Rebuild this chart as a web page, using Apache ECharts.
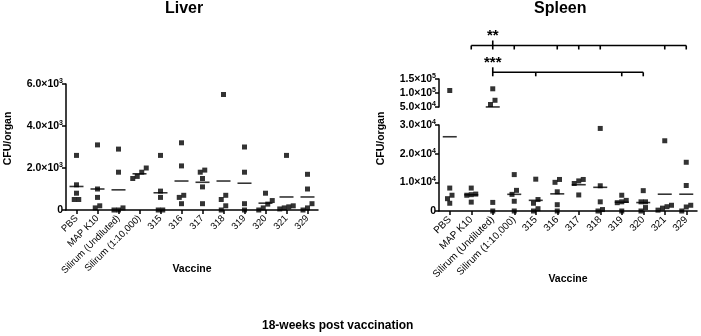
<!DOCTYPE html>
<html>
<head>
<meta charset="utf-8">
<script src="https://cdn.jsdelivr.net/npm/echarts@6/dist/echarts.min.js"></script>
<style>
  html, body { margin: 0; padding: 0; background: #fff; }
  #chart { width: 701px; height: 336px; }
</style>
</head>
<body>
<div id="chart"></div>
<script>
// vaccine groups on the x axis
const categories = ['PBS', 'MAP K10', 'Silirum (Undiluted)', 'Silirum (1:10,000)', '315', '316', '317', '318', '319', '320', '321', '329'];

// CFU per organ, one list of animals per group
const liverCFU = [
  [2600, 1200, 800, 500, 500],
  [3100, 1000, 600, 200, 100],
  [2900, 1800, 100, 0, 0],
  [2000, 1800, 1600, 1500],
  [2600, 900, 600, 0, 0],
  [3200, 2100, 700, 600, 300],
  [1900, 1800, 1500, 1100, 300],
  [5500, 700, 500, 200, 0],
  [3000, 1800, 300, 0],
  [800, 450, 280, 100, 0],
  [2600, 200, 150, 100, 50],
  [1700, 1000, 300, 100, 0]
];
const spleenCFU = [
  [109000, 8000, 5500, 4300, 2700],
  [8000, 5900, 5700, 5500, 3100],
  [115000, 74000, 59000, 3000, 0],
  [12700, 7200, 5800, 3400, 0],
  [11100, 4000, 2700, 800, 0],
  [11000, 10000, 6700, 2200, 0],
  [11000, 10500, 9600, 5600],
  [28800, 8800, 3200, 500, 0],
  [5500, 3700, 3200, 2900, 0],
  [7100, 3200, 3200, 1200, 0],
  [24500, 2000, 1500, 1000, 300],
  [17000, 8900, 2000, 1400, 0]
];

const liverTicks = [0, 6000, 2000];       // min, max, step
const spleenLowTicks = [0, 30000, 10000];
const spleenHighTicks = [50000, 150000, 50000];

// significance brackets (spleen)
const sigLabels = ['**', '***'];
const sigFrom = ['MAP K10', 'Silirum (Undiluted)'];
const sigTo = ['329', '320'];
const sigAnchor = ['Silirum (Undiluted)', 'Silirum (Undiluted)'];
const sigMarks = [
  ['MAP K10', 'Silirum (Undiluted)', 'Silirum (1:10,000)', '316', '317', '318', '321', '329'],
  ['Silirum (Undiluted)', '315', '319', '320']
];

// ---------- layout ----------
const FONT = 'Liberation Sans, Arial, Helvetica, sans-serif';
const liverGrid = { left: 66, top: 84, width: 252, height: 126 };
const spHiGrid = { left: 439, top: 79, width: 258, height: 28 };
const spLoGrid = { left: 439, top: 125, width: 258, height: 86 };
const sigGrid = { left: 439, top: 30, width: 258, height: 50 };
const sigLevels = [34.5, 7.7]; // in sig grid units (px above its bottom)

const mean = a => a.reduce((s, v) => s + v, 0) / a.length;

function sci(v) {
  if (v === 0) return '0';
  const e = Math.floor(Math.log10(v) + 1e-9);
  const m = v / Math.pow(10, e);
  return m.toFixed(1) + '×10{sup|' + e + '}';
}

// Prism-like horizontal spread of points that would overlap
function spread(vals, toPx) {
  const idx = vals.map((v, i) => i).sort((a, b) => vals[a] - vals[b]);
  const off = new Array(vals.length).fill(0);
  let group = [idx[0]];
  const flush = () => {
    const n = group.length;
    group.forEach((g, k) => { off[g] = (k - (n - 1) / 2) * 4.5; });
  };
  for (let k = 1; k < idx.length; k++) {
    const prev = group[group.length - 1];
    if (Math.abs(toPx(vals[idx[k]]) - toPx(vals[prev])) < 4.5) group.push(idx[k]);
    else { flush(); group = [idx[k]]; }
  }
  flush();
  return off;
}

const liverPx = v => v / (liverTicks[1] - liverTicks[0]) * liverGrid.height;
const spleenPx = v => v > spleenLowTicks[1]
  ? 1000 + (v - spleenHighTicks[0]) / (spleenHighTicks[1] - spleenHighTicks[0]) * spHiGrid.height
  : v / (spleenLowTicks[1] - spleenLowTicks[0]) * spLoGrid.height;

const liverPts = [];
liverCFU.forEach((vals, c) => {
  const off = spread(vals, liverPx);
  vals.forEach((v, i) => liverPts.push({ value: [c, v], symbolOffset: [off[i], 0] }));
});
const spHiPts = [], spLoPts = [];
spleenCFU.forEach((vals, c) => {
  const off = spread(vals, spleenPx);
  vals.forEach((v, i) => {
    const p = { value: [c, v], symbolOffset: [off[i], 0] };
    (v > spleenLowTicks[1] ? spHiPts : spLoPts).push(p);
  });
});
const liverMeans = liverCFU.map((vals, c) => [c, mean(vals)]);
const spMeans = spleenCFU.map((vals, c) => [c, mean(vals)]);
const spHiMeans = spMeans.filter(d => d[1] > spleenLowTicks[1]);
const spLoMeans = spMeans.filter(d => d[1] <= spleenLowTicks[1]);

const axisLineStyle = { color: '#000', width: 1.5 };
const yLabel = {
  color: '#000', fontFamily: FONT, fontSize: 10.5, fontWeight: 'bold', margin: 3,
  formatter: sci,
  rich: { sup: { fontSize: 7, fontWeight: 'bold', fontFamily: FONT, color: '#000', padding: [0, 0, 6, 0] } }
};
const xLabel = { color: '#000', fontFamily: FONT, fontSize: 9.5, rotate: 45, interval: 0, margin: 7 };
const yNameStyle = { color: '#000', fontFamily: FONT, fontSize: 10.5, fontWeight: 'bold' };

function catAxis(gridIndex, show, nameGap, labelSize) {
  return {
    type: 'category', gridIndex, data: categories, boundaryGap: true, show,
    axisLine: { show: true, lineStyle: axisLineStyle },
    axisTick: { show: true, alignWithLabel: true, length: 4, lineStyle: axisLineStyle },
    axisLabel: Object.assign({}, xLabel, { fontSize: labelSize }),
    splitLine: { show: false },
    name: show ? 'Vaccine' : '', nameLocation: 'middle', nameGap, nameMoveOverlap: false,
    nameTextStyle: { color: '#000', fontFamily: FONT, fontSize: 10.5, fontWeight: 'bold' }
  };
}
function valAxis(gridIndex, ticks, name, namePad) {
  return {
    type: 'value', gridIndex, min: ticks[0], max: ticks[1], interval: ticks[2],
    axisLine: { show: true, lineStyle: axisLineStyle },
    axisTick: { show: true, length: 4, lineStyle: axisLineStyle },
    axisLabel: yLabel,
    splitLine: { show: false },
    name, nameLocation: 'middle', nameGap: 52, nameMoveOverlap: false,
    nameTextStyle: Object.assign({}, yNameStyle, { padding: [0, 0, 0, namePad] })
  };
}

const dotStyle = { type: 'scatter', symbol: 'rect', symbolSize: 5, itemStyle: { color: '#000' }, clip: false, silent: true, z: 5 };
const meanStyle = { type: 'scatter', symbol: 'rect', symbolSize: [14, 1.6], itemStyle: { color: '#000' }, clip: false, silent: true, z: 6 };

const chart = echarts.init(document.getElementById('chart'), null, { renderer: 'canvas' });
chart.setOption({
  animation: false,
  backgroundColor: '#fff',
  title: [
    { text: 'Liver', left: 165, top: 1, padding: 0, textStyle: { fontFamily: FONT, fontSize: 16, fontWeight: 'bold', color: '#000' } },
    { text: 'Spleen', left: 534, top: 1, padding: 0, textStyle: { fontFamily: FONT, fontSize: 16, fontWeight: 'bold', color: '#000' } },
    { text: '18-weeks post vaccination', left: 262, top: 320, padding: 0, textStyle: { fontFamily: FONT, fontSize: 12, fontWeight: 'bold', color: '#000' } }
  ],
  grid: [liverGrid, spHiGrid, spLoGrid, sigGrid],
  xAxis: [
    catAxis(0, true, 54, 9.5),
    catAxis(1, false, 0, 9),
    catAxis(2, true, 63, 10),
    catAxis(3, false, 0, 9)
  ],
  yAxis: [
    valAxis(0, liverTicks, 'CFU/organ', 17),
    valAxis(1, spleenHighTicks, '', 0),
    valAxis(2, spleenLowTicks, 'CFU/organ', 59),
    { type: 'value', gridIndex: 3, min: 0, max: 50, show: false }
  ],
  series: [
    Object.assign({ xAxisIndex: 0, yAxisIndex: 0, data: liverPts }, dotStyle),
    Object.assign({ xAxisIndex: 0, yAxisIndex: 0, data: liverMeans }, meanStyle),
    Object.assign({ xAxisIndex: 1, yAxisIndex: 1, data: spHiPts }, dotStyle),
    Object.assign({ xAxisIndex: 1, yAxisIndex: 1, data: spHiMeans }, meanStyle),
    Object.assign({ xAxisIndex: 2, yAxisIndex: 2, data: spLoPts }, dotStyle),
    Object.assign({ xAxisIndex: 2, yAxisIndex: 2, data: spLoMeans }, meanStyle),
    {
      type: 'custom', xAxisIndex: 3, yAxisIndex: 3, silent: true, clip: false,
      data: sigLabels.map((s, i) => [i]),
      renderItem: (params, api) => {
        const i = params.dataIndex;
        const lvl = sigLevels[i];
        const a = api.coord([categories.indexOf(sigFrom[i]), lvl]);
        const b = api.coord([categories.indexOf(sigTo[i]), lvl]);
        const c = api.coord([categories.indexOf(sigAnchor[i]), lvl]);
        const st = { stroke: '#000', lineWidth: 1.6 };
        const children = [{ type: 'line', shape: { x1: a[0], y1: a[1], x2: b[0], y2: b[1] }, style: st }];
        sigMarks[i].forEach(m => {
          const p = api.coord([categories.indexOf(m), lvl]);
          const up = m === sigAnchor[i] ? 5 : 0;
          children.push({ type: 'line', shape: { x1: p[0], y1: p[1] - up, x2: p[0], y2: p[1] + 4 }, style: st });
        });
        children.push({
          type: 'text', x: c[0], y: c[1] - 2,
          style: { text: sigLabels[i], fill: '#000', font: 'bold 15px ' + FONT, textAlign: 'center', textVerticalAlign: 'bottom' }
        });
        return { type: 'group', children };
      }
    }
  ]
});
</script>
</body>
</html>
